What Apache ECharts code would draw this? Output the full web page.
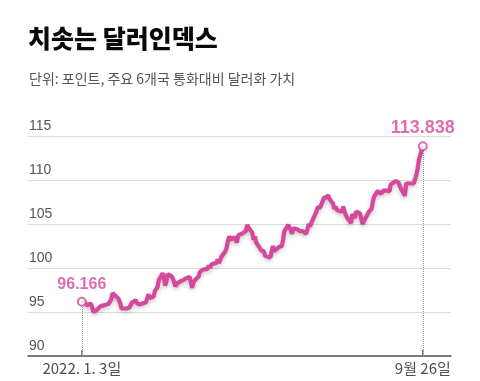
<!DOCTYPE html>
<html>
<head>
<meta charset="utf-8">
<script src="https://cdn.jsdelivr.net/npm/echarts@6/dist/echarts.min.js"></script>
<style>
html,body{margin:0;padding:0;background:#fff;}
#chart{width:480px;height:381px;}
</style>
</head>
<body>
<div id="chart"></div>
<script>
const titleText = '치솟는 달러인덱스';
const subtitleText = '단위: 포인트, 주요 6개국 통화대비 달러화 가치';

const dates = [
'2022-01-03','2022-01-04','2022-01-05','2022-01-06','2022-01-07','2022-01-10','2022-01-11','2022-01-12','2022-01-13','2022-01-14',
'2022-01-18','2022-01-19','2022-01-20','2022-01-21','2022-01-24','2022-01-25','2022-01-26','2022-01-27','2022-01-28','2022-01-31',
'2022-02-01','2022-02-02','2022-02-03','2022-02-04','2022-02-07','2022-02-08','2022-02-09','2022-02-10','2022-02-11','2022-02-14',
'2022-02-15','2022-02-16','2022-02-17','2022-02-18','2022-02-22','2022-02-23','2022-02-24','2022-02-25','2022-02-28','2022-03-01',
'2022-03-02','2022-03-03','2022-03-04','2022-03-07','2022-03-08','2022-03-09','2022-03-10','2022-03-11','2022-03-14','2022-03-15',
'2022-03-16','2022-03-17','2022-03-18','2022-03-21','2022-03-22','2022-03-23','2022-03-24','2022-03-25','2022-03-28','2022-03-29',
'2022-03-30','2022-03-31','2022-04-01','2022-04-04','2022-04-05','2022-04-06','2022-04-07','2022-04-08','2022-04-11','2022-04-12',
'2022-04-13','2022-04-14','2022-04-18','2022-04-19','2022-04-20','2022-04-21','2022-04-22','2022-04-25','2022-04-26','2022-04-27',
'2022-04-28','2022-04-29','2022-05-02','2022-05-03','2022-05-04','2022-05-05','2022-05-06','2022-05-09','2022-05-10','2022-05-11',
'2022-05-12','2022-05-13','2022-05-16','2022-05-17','2022-05-18','2022-05-19','2022-05-20','2022-05-23','2022-05-24','2022-05-25',
'2022-05-26','2022-05-27','2022-05-30','2022-05-31','2022-06-01','2022-06-02','2022-06-03','2022-06-06','2022-06-07','2022-06-08',
'2022-06-09','2022-06-10','2022-06-13','2022-06-14','2022-06-15','2022-06-16','2022-06-17','2022-06-20','2022-06-21','2022-06-22',
'2022-06-23','2022-06-24','2022-06-27','2022-06-28','2022-06-29','2022-06-30','2022-07-01','2022-07-05','2022-07-06','2022-07-07',
'2022-07-08','2022-07-11','2022-07-12','2022-07-13','2022-07-14','2022-07-15','2022-07-18','2022-07-19','2022-07-20','2022-07-21',
'2022-07-22','2022-07-25','2022-07-26','2022-07-27','2022-07-28','2022-07-29','2022-08-01','2022-08-02','2022-08-03','2022-08-04',
'2022-08-05','2022-08-08','2022-08-09','2022-08-10','2022-08-11','2022-08-12','2022-08-15','2022-08-16','2022-08-17','2022-08-18',
'2022-08-19','2022-08-22','2022-08-23','2022-08-24','2022-08-25','2022-08-26','2022-08-29','2022-08-30','2022-08-31','2022-09-01',
'2022-09-02','2022-09-05','2022-09-06','2022-09-07','2022-09-08','2022-09-09','2022-09-12','2022-09-13','2022-09-14','2022-09-15',
'2022-09-16','2022-09-19','2022-09-20','2022-09-21','2022-09-22','2022-09-23','2022-09-26'
];
const values = [
96.166,96.25,96.18,96.3,95.75,95.95,95.6,95.0,94.85,95.15,
95.7,95.55,95.75,95.65,95.95,96.0,96.45,97.15,97.3,96.6,
96.35,96.0,95.4,95.45,95.4,95.6,95.5,95.75,96.05,96.35,
96.0,95.85,95.85,96.05,96.1,96.2,97.0,96.6,96.75,97.4,
97.4,97.8,98.6,99.4,99.05,98.0,98.5,99.3,99.05,98.8,
98.4,97.9,98.2,98.5,98.35,98.6,98.8,98.8,99.0,98.4,
97.75,98.3,98.6,99.0,99.5,99.6,99.8,99.8,99.9,100.3,
100.0,100.4,100.6,100.95,100.6,100.9,101.3,101.9,102.35,103.1,
103.6,103.2,103.5,103.2,102.9,103.7,103.8,104.0,104.1,104.2,
104.9,104.6,104.0,103.2,103.6,102.9,102.8,102.0,101.8,101.9,
101.4,101.3,101.2,101.8,102.5,101.9,102.1,102.4,102.3,102.5,
103.2,104.2,104.9,105.1,104.3,103.9,104.5,104.4,104.4,104.2,
104.4,104.2,103.9,104.4,105.0,104.7,105.1,106.4,106.9,107.0,
106.9,108.0,108.0,108.0,108.3,107.9,107.3,106.7,107.0,106.6,
106.7,106.4,107.0,106.4,106.0,105.7,105.1,106.1,106.3,105.7,
106.4,106.2,106.1,105.0,104.8,105.6,106.4,106.6,106.7,107.5,
108.1,108.8,108.5,108.6,108.5,108.8,108.8,108.8,108.7,109.5,
109.4,109.9,110.1,109.7,109.6,109.0,108.2,109.6,109.5,109.6,
109.7,109.6,110.1,110.6,111.3,112.3,113.838
];
const yTicks = [90, 95, 100, 105, 110, 115];
const dateTickLabels = ['2022. 1. 3일', '9월 26일'];
const axisRange = ['2021-11-22', '2022-10-18'];

function ts(s){ const p = s.split('-').map(Number); return new Date(p[0], p[1]-1, p[2]).getTime(); }

const PINK = '#d6489b';
const lineData = dates.map((d,i)=>[ts(d), values[i]]);
const first = lineData[0], last = lineData[lineData.length-1];
const endpoints = [first, last];
const endLabelSizes = [16, 18];

const chart = echarts.init(document.getElementById('chart'), null, {renderer:'canvas'});
chart.setOption({
  animation: false,
  backgroundColor: '#fff',
  title: [
    {text: titleText, left: 28, top: 26, padding: 0, textStyle:{fontFamily:'Noto Sans CJK KR', fontSize: 25, fontWeight: 900, color:'#0a0a0a'}},
    {text: subtitleText, left: 29, top: 72, padding: 0, textStyle:{fontFamily:'Noto Sans CJK KR', fontSize: 14, fontWeight: 'normal', color:'#555'}}
  ],
  grid: {left: 28, right: 29, top: 136, bottom: 25, containLabel: false},
  xAxis: {
    type: 'time',
    min: ts(axisRange[0]), max: ts(axisRange[1]),
    axisLine: {show: true, lineStyle:{color:'#555', width: 1.5}},
    axisTick: {show: false}, axisLabel: {show: false}, splitLine: {show: false}
  },
  yAxis: {
    type: 'value', min: yTicks[0], max: yTicks[yTicks.length-1], interval: 5,
    axisLine: {show:false}, axisTick:{show:false},
    axisLabel: {inside: true, margin: 1, verticalAlign: 'bottom', align:'left', padding:[0,0,3,0],
      fontFamily:'Liberation Sans, Arial', fontSize: 14, color:'#555'},
    splitLine: {lineStyle:{color:'#dcdcdc', width:1}}
  },
  series: [
    {
      type: 'line', data: lineData, showSymbol: false, z: 3,
      lineStyle: {color: PINK, width: 4.2, shadowColor:'rgba(0,0,0,0.22)', shadowBlur: 4, shadowOffsetY: 2},
      markLine: {
        silent: true, symbol: 'none', label:{show:false},
        lineStyle: {color:'#999', type:'dotted', width:1},
        data: endpoints.map(p => [{coord:[p[0], yTicks[0]]}, {coord:[p[0], p[1]]}])
      }
    },
    {
      type: 'scatter', z: 5,
      data: endpoints.map((p,i)=>({value:p, label:{fontSize: endLabelSizes[i]}})),
      symbol: 'emptyCircle', symbolSize: 8,
      itemStyle: {color: PINK, borderColor: PINK, borderWidth: 1.5},
      label: {show: true, position: 'top', distance: 4, color: PINK, fontWeight: 'bold',
        fontFamily:'Liberation Sans, Arial',
        formatter: p => p.value[1].toFixed(3)}
    },
    {
      type: 'scatter', z: 4,
      data: endpoints.map(p => [p[0], yTicks[0]]),
      symbol: 'rect', symbolSize: [1.5, 6], symbolOffset: [0, -3],
      itemStyle: {color:'#555'},
      label: {show: true, position: 'bottom', distance: 5, color:'#222', fontSize: 15,
        fontFamily:'Noto Sans CJK KR',
        formatter: p => dateTickLabels[p.dataIndex]}
    }
  ]
});
</script>
</body>
</html>
